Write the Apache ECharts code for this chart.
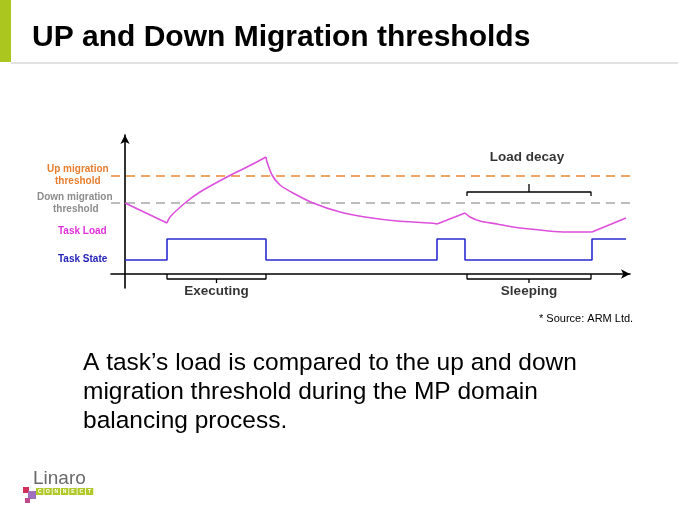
<!DOCTYPE html>
<html>
<head>
<meta charset="utf-8">
<script src="https://cdn.jsdelivr.net/npm/echarts@6/dist/echarts.min.js"></script>
<style>
  html, body { margin: 0; padding: 0; background: #fff; }
  #main { width: 678px; height: 508px; }
</style>
</head>
<body>
<div id="main"></div>
<script type="text/javascript">
// time runs along x (0 = y axis), level runs up y (0 = x axis)
var upThreshold = 98;
var downThreshold = 71;
var thresholdSpan = [-14, 505];

// task load, piece by piece (corners stay sharp between pieces)
var loadFall = [[0, 71], [42, 51]];
var loadRise = [[42, 51], [45, 57], [60, 71], [75, 82], [102, 97], [122, 107], [141, 117]];
var loadDecay = [[141, 117], [142, 112], [147, 99], [155, 89], [168, 81], [188, 71], [215, 62], [240, 57], [272, 53], [305, 51], [312, 50]];
var loadRise2 = [[312, 50], [340, 61]];
var loadDecay2 = [[340, 61], [345, 57], [355, 53], [372, 50], [388, 47], [405, 45], [438, 42], [467, 42]];
var loadRise3 = [[467, 42], [501, 56]];

// task state steps
var stateTimes = [0, 42, 141, 312, 340, 467, 501];
var stateLevels = [14, 35, 14, 35, 14, 35, 35];

// brackets
var executingSpan = [42, 141];
var sleepingSpan = [342, 466];
var decaySpan = [342, 466];

function bracket(x0, x1, y, endY, tipY) {
  var mid = (x0 + x1) / 2;
  return [[x0, endY], [x0, y], [mid, y], [mid, tipY], [mid, y], [x1, y], [x1, endY]];
}

function pairs(xs, ys) {
  var out = [];
  for (var i = 0; i < xs.length; i++) out.push([xs[i], ys[i]]);
  return out;
}

var font = 'Liberation Sans, Arial, sans-serif';
var loadColor = '#dd4fdd';
var stateColor = '#2a2ad0';

var myChart = echarts.init(document.getElementById('main'));

function loadSeries(d, smooth) {
  return {
    type: 'line', data: d, smooth: smooth, symbol: 'none', silent: true,
    lineStyle: { color: loadColor, width: 1.6 }, z: 4
  };
}

function label(text, left, top, color, size, weight) {
  return {
    type: 'text', left: left, top: top,
    style: { text: text, font: (weight || 'bold') + ' ' + (size || 10) + 'px ' + font, fill: color }
  };
}

myChart.setOption({
  animation: false,
  title: {
    text: 'UP and Down Migration thresholds',
    left: 27, top: 18,
    textStyle: { fontFamily: font, fontSize: 30, fontWeight: 'bold', color: '#000' }
  },
  grid: { left: 111, right: 48, top: 135, bottom: 220 },
  xAxis: {
    type: 'value', min: -14, max: 505,
    splitLine: { show: false }, axisTick: { show: false }, axisLabel: { show: false },
    axisLine: { show: true, onZero: true, symbol: ['none', 'arrow'], symbolSize: [7, 9], lineStyle: { color: '#000', width: 1.6 } }
  },
  yAxis: {
    type: 'value', min: -14, max: 139,
    splitLine: { show: false }, axisTick: { show: false }, axisLabel: { show: false },
    axisLine: { show: true, onZero: true, symbol: ['none', 'arrow'], symbolSize: [7, 9], lineStyle: { color: '#000', width: 1.6 } }
  },
  series: [
    {
      type: 'line', symbol: 'none', silent: true,
      data: [[thresholdSpan[0], upThreshold], [thresholdSpan[1], upThreshold]],
      lineStyle: { color: '#f0a466', width: 2, type: [9, 6] }
    },
    {
      type: 'line', symbol: 'none', silent: true,
      data: [[thresholdSpan[0], downThreshold], [thresholdSpan[1], downThreshold]],
      lineStyle: { color: '#a8a8a8', width: 1.6, type: [9, 6] }
    },
    loadSeries(loadFall, false),
    loadSeries(loadRise, 0.25),
    loadSeries(loadDecay, 0.25),
    loadSeries(loadRise2, false),
    loadSeries(loadDecay2, 0.25),
    loadSeries(loadRise3, false),
    {
      type: 'line', step: 'end', symbol: 'none', silent: true,
      data: pairs(stateTimes, stateLevels),
      lineStyle: { color: stateColor, width: 1.6 }, z: 3
    },
    {
      type: 'line', symbol: 'none', silent: true,
      data: bracket(executingSpan[0], executingSpan[1], -5, 0, -9),
      lineStyle: { color: '#000', width: 1.3 }
    },
    {
      type: 'line', symbol: 'none', silent: true,
      data: bracket(sleepingSpan[0], sleepingSpan[1], -5, 0, -9),
      lineStyle: { color: '#000', width: 1.3 }
    },
    {
      type: 'line', symbol: 'none', silent: true,
      data: bracket(decaySpan[0], decaySpan[1], 82, 78, 90),
      lineStyle: { color: '#000', width: 1.3 }
    },
    {
      type: 'scatter', symbolSize: 0, silent: true,
      data: [
        [(executingSpan[0] + executingSpan[1]) / 2, -9, 'Executing'],
        [(sleepingSpan[0] + sleepingSpan[1]) / 2, -9, 'Sleeping']
      ],
      label: {
        show: true, position: 'bottom', distance: 1,
        formatter: function (p) { return p.data[2]; },
        fontFamily: font, fontSize: 13.5, fontWeight: 'bold', color: '#000'
      }
    },
    {
      type: 'scatter', symbolSize: 0, silent: true,
      data: [[(decaySpan[0] + decaySpan[1]) / 2 - 2, 91, 'Load decay']],
      label: {
        show: true, position: 'top', distance: 19,
        formatter: function (p) { return p.data[2]; },
        fontFamily: font, fontSize: 13.5, fontWeight: 'bold', color: '#000'
      }
    }
  ],
  graphic: [
    { type: 'rect', shape: { x: 0, y: 0, width: 11, height: 62 }, style: { fill: '#aac61f' } },
    { type: 'rect', shape: { x: 11, y: 62, width: 667, height: 2 }, style: { fill: '#e2e2e2' } },
    label('Up migration', 47, 164, '#e97d2e'),
    label('threshold', 55, 176, '#e97d2e'),
    label('Down migration', 37, 192, '#8c8c8c'),
    label('threshold', 53, 204, '#8c8c8c'),
    label('Task Load', 58, 226, '#e030d8'),
    label('Task State', 58, 254, '#2323b8'),
    label('* Source: ARM Ltd.', 539, 313, '#000', 11, 'normal'),
    {
      type: 'text', left: 83, top: 349,
      style: {
        text: 'A task\u2019s load is compared to the up and down\nmigration threshold during the MP domain\nbalancing process.',
        font: '24.5px ' + font, fill: '#000', lineHeight: 29
      }
    },
    label('Linaro', 33, 469, '#6a6a6a', 19, 'normal'),
    { type: 'rect', shape: { x: 23, y: 487, width: 6, height: 6 }, style: { fill: '#d0305a' } },
    { type: 'rect', shape: { x: 28, y: 491, width: 8, height: 8 }, style: { fill: '#a070c0' } },
    { type: 'rect', shape: { x: 25, y: 498, width: 5, height: 5 }, style: { fill: '#c04a90' } },
    {
      type: 'group', left: 36, top: 488,
      children: 'CONNECT'.split('').map(function (ch, i) {
        return {
          type: 'group', x: i * 8.3, y: 0,
          children: [
            { type: 'rect', shape: { x: 0, y: 0, width: 7.5, height: 7 }, style: { fill: '#b2c92a' } },
            { type: 'text', x: 3.75, y: 1, style: { text: ch, font: 'bold 5px ' + font, fill: '#fff', align: 'center' } }
          ]
        };
      })
    }
  ]
});
</script>
</body>
</html>
